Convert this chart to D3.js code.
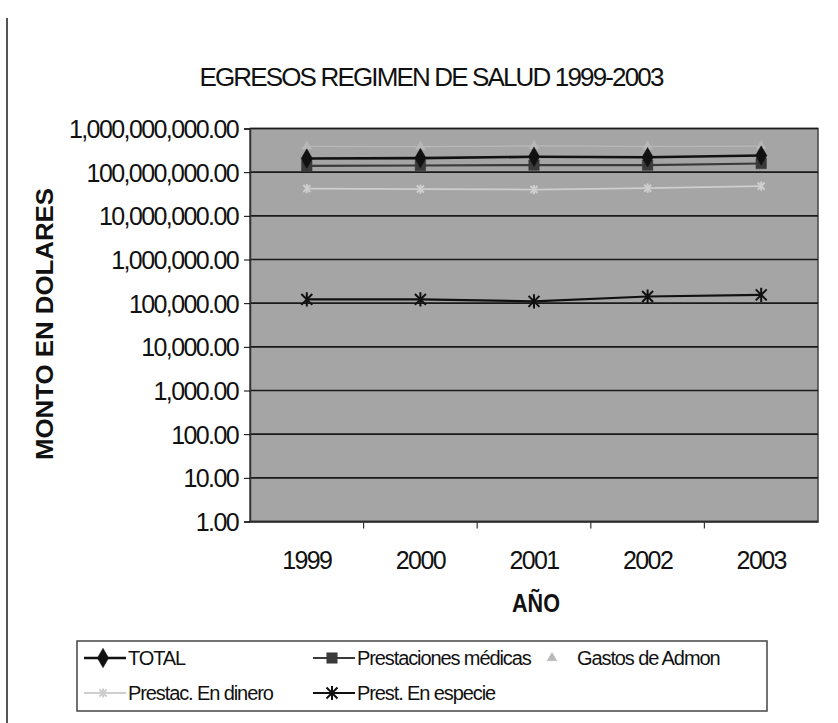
<!DOCTYPE html>
<html lang="es">
<head>
<meta charset="utf-8">
<title>Egresos regimen de salud</title>
<script src="https://cdn.jsdelivr.net/npm/d3@7"></script>
<style>
  body { margin: 0; background: #fff; }
  svg text { font-family: "Liberation Sans", Arial, sans-serif; fill: #111; }
  .tick text { font-size: 25px; letter-spacing: -1.6px; }
</style>
</head>
<body>
<script>
// datos
var years = ["1999", "2000", "2001", "2002", "2003"];
var yTicks = [1, 10, 100, 1000, 10000, 100000, 1000000, 10000000, 100000000, 1000000000];
var seriesNames = ["TOTAL", "Prestaciones médicas", "Gastos de Admon", "Prestac. En dinero", "Prest. En especie"];
var total      = [205000000, 210000000, 225000000, 220000000, 240000000];
var prestMed   = [140000000, 142000000, 145000000, 145000000, 158000000];
var gastosAdm  = [390000000, 385000000, 400000000, 390000000, 395000000];
var prestDin   = [42000000, 41000000, 40000000, 43000000, 48000000];
var prestEsp   = [122000, 122000, 110000, 142000, 155000];

var W = 838, H = 723;
var plot = {left: 250, right: 818, top: 128.5, bottom: 521.5};

var svg = d3.select("body").append("svg")
  .attr("width", W).attr("height", H);

// borde izquierdo del recorte
svg.append("line")
  .attr("x1", 7).attr("x2", 7).attr("y1", 18).attr("y2", H)
  .attr("stroke", "#555").attr("stroke-width", 2);

// titulo
svg.append("text")
  .attr("x", 431).attr("y", 86)
  .attr("text-anchor", "middle")
  .attr("font-size", 26)
  .attr("letter-spacing", "-1.85px")
  .text("EGRESOS REGIMEN DE SALUD 1999-2003");

var x = d3.scaleBand().domain(years).range([plot.left, plot.right]);
var y = d3.scaleLog().domain([1, 1e9]).range([plot.bottom, plot.top]);

// fondo del area de trazado
svg.append("rect")
  .attr("x", plot.left).attr("y", plot.top)
  .attr("width", plot.right - plot.left).attr("height", plot.bottom - plot.top)
  .attr("fill", "#a5a5a5").attr("stroke", "#444").attr("stroke-width", 1.5);

// lineas de division
svg.append("g").selectAll("line").data(yTicks).enter().append("line")
  .attr("x1", plot.left).attr("x2", plot.right)
  .attr("y1", function(d) { return y(d); }).attr("y2", function(d) { return y(d); })
  .attr("stroke", "#1a1a1a").attr("stroke-width", 1.6);

// eje Y
var yAxis = d3.axisLeft(y).tickValues(yTicks).tickFormat(d3.format(",.2f")).tickSizeOuter(0).tickSize(6).tickPadding(6);
svg.append("g")
  .attr("transform", "translate(" + plot.left + ",0)")
  .call(yAxis)
  .call(function(g) { g.select(".domain").attr("stroke", "#333").attr("stroke-width", 1.5); })
  .selectAll("text").attr("dy", "0.36em");

// eje X, marcas entre categorias
var xAxis = d3.axisBottom(x).tickSize(0).tickPadding(30);
var gx = svg.append("g")
  .attr("transform", "translate(0," + plot.bottom + ")")
  .call(xAxis);
gx.select(".domain").attr("stroke", "#333").attr("stroke-width", 1.5);
gx.selectAll(".sep").data(years.slice(1)).enter().append("line")
  .attr("class", "sep")
  .attr("x1", function(d) { return x(d); }).attr("x2", function(d) { return x(d); })
  .attr("y1", 0).attr("y2", 7)
  .attr("stroke", "#333").attr("stroke-width", 1.2);

// titulos de ejes
svg.append("text")
  .attr("x", 536).attr("y", 612)
  .attr("text-anchor", "middle")
  .attr("font-size", 26).attr("font-weight", "bold")
  .attr("textLength", 48).attr("lengthAdjust", "spacingAndGlyphs")
  .text("AÑO");

svg.append("text")
  .attr("transform", "translate(53,324) rotate(-90)")
  .attr("text-anchor", "middle")
  .attr("font-size", 24).attr("font-weight", "bold")
  .attr("textLength", 272).attr("lengthAdjust", "spacingAndGlyphs")
  .text("MONTO EN DOLARES");

// simbolo asterisco (X con barra vertical)
var asterisk = {
  draw: function(ctx, size) {
    var r = Math.sqrt(size) / 2;
    ctx.moveTo(-r, -r); ctx.lineTo(r, r);
    ctx.moveTo(-r, r); ctx.lineTo(r, -r);
    ctx.moveTo(0, -r * 1.3); ctx.lineTo(0, r * 1.3);
  }
};

var series = [
  {name: seriesNames[0], values: total,     color: "#111", width: 2.6, sym: d3.symbolDiamond,  size: 110, fill: true},
  {name: seriesNames[1], values: prestMed,  color: "#3a3a3a", width: 2.2, sym: d3.symbolSquare, size: 110, fill: true},
  {name: seriesNames[2], values: gastosAdm, color: "#b8b8b8", width: 1.2, sym: d3.symbolTriangle, size: 40, fill: true},
  {name: seriesNames[3], values: prestDin,  color: "#cecece", width: 1.8, sym: asterisk, size: 50, fill: false},
  {name: seriesNames[4], values: prestEsp,  color: "#111", width: 2.2, sym: asterisk, size: 120, fill: false}
];

var line = d3.line()
  .x(function(d, i) { return x(years[i]) + x.bandwidth() / 2; })
  .y(function(d) { return y(d); });

var drawOrder = [2, 3, 1, 0, 4];
drawOrder.forEach(function(k) {
  var s = series[k];
  svg.append("path")
    .datum(s.values)
    .attr("fill", "none").attr("stroke", s.color).attr("stroke-width", s.width)
    .attr("d", line);
  svg.append("g").selectAll("path").data(s.values).enter().append("path")
    .attr("transform", function(d, i) { return "translate(" + (x(years[i]) + x.bandwidth() / 2) + "," + y(d) + ")"; })
    .attr("d", d3.symbol().type(s.sym).size(s.size))
    .attr("fill", s.fill ? s.color : "none")
    .attr("stroke", s.color).attr("stroke-width", s.fill ? 0.5 : 2);
});

// leyenda
var legend = svg.append("g");
legend.append("rect")
  .attr("x", 77).attr("y", 641).attr("width", 690).attr("height", 70)
  .attr("fill", "#fff").attr("stroke", "#444").attr("stroke-width", 1.5);

var legPos = [[84, 658], [313, 658], [533, 658], [84, 693], [313, 693]];
series.forEach(function(s, i) {
  var p = legPos[i];
  var g = legend.append("g").attr("transform", "translate(" + p[0] + "," + p[1] + ")");
  g.append("line").attr("x1", 0).attr("x2", 42).attr("y1", 0).attr("y2", 0)
    .attr("stroke", s.color).attr("stroke-width", i === 2 ? 0 : s.width);
  g.append("path")
    .attr("transform", "translate(19,0)")
    .attr("d", d3.symbol().type(s.sym).size(s.size))
    .attr("fill", s.fill ? s.color : "none")
    .attr("stroke", s.color).attr("stroke-width", s.fill ? 0.5 : 2);
  g.append("text")
    .attr("x", 44).attr("y", 0).attr("dy", "0.35em")
    .attr("font-size", 20).attr("letter-spacing", "-1.1px")
    .text(s.name);
});
</script>
</body>
</html>
